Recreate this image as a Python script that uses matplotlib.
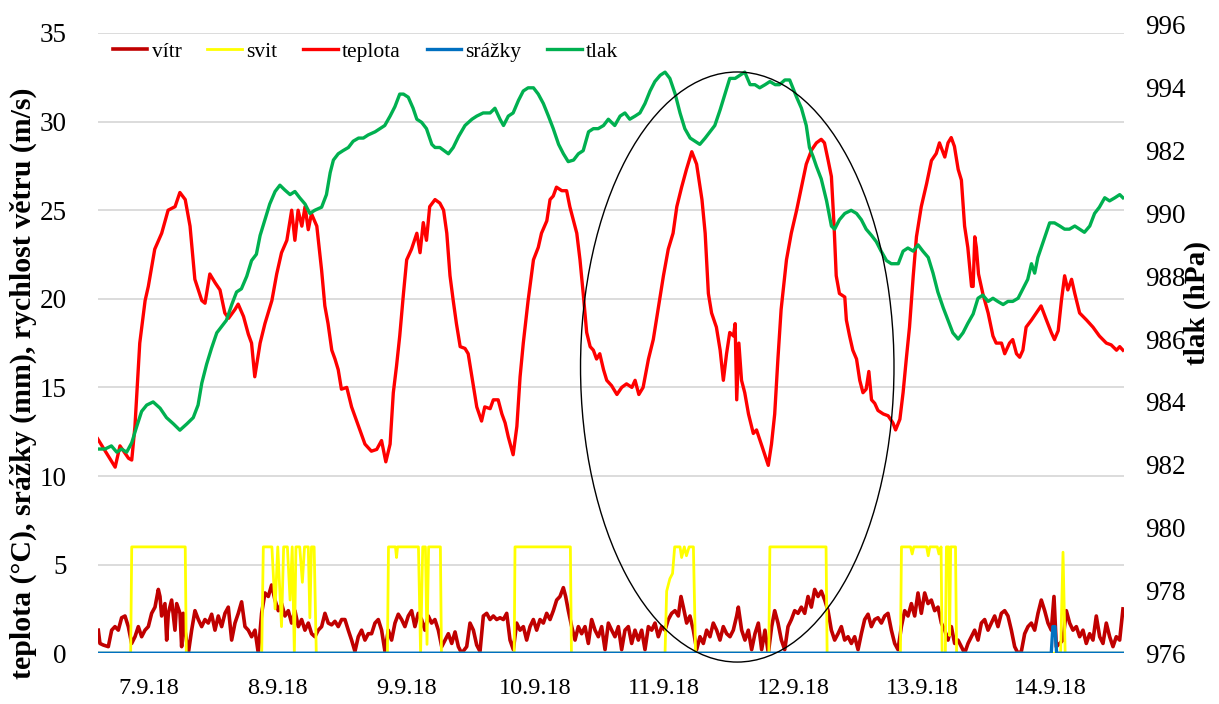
import matplotlib
matplotlib.use('Agg')
import matplotlib.pyplot as plt
from matplotlib.patches import Ellipse

plt.rcParams['font.family'] = ['Liberation Serif', 'DejaVu Serif']

# -----------------------------------------------------------------------------
# data (time in hours from the first record)
# -----------------------------------------------------------------------------
den_h = [9.5, 33.6, 57.7, 81.8, 105.9, 130.0, 154.1, 178.2]
den_lab = ['7.9.18', '8.9.18', '9.9.18', '10.9.18', '11.9.18', '12.9.18', '13.9.18', '14.9.18']

vitr_h = [0.15, 0.46, 1.09, 2.02, 2.65, 3.27, 3.89, 4.51, 5.14, 5.76, 6.38, 7.01, 7.63, 8.25, 8.88,
          9.50, 10.12, 10.75, 11.37, 11.68, 11.99, 12.61, 12.93, 13.24, 13.86, 14.48, 14.80, 15.42,
          15.73, 16.04, 16.35, 16.98, 17.60, 18.22, 18.85, 19.47, 20.09, 20.71, 21.34, 21.96, 22.58,
          23.21, 23.83, 24.45, 25.08, 25.70, 26.32, 26.94, 27.57, 28.19, 28.81, 29.44, 30.06, 30.68,
          31.31, 31.93, 32.55, 33.18, 33.80, 34.42, 35.04, 35.67, 36.29, 36.91, 37.54, 38.16, 38.78,
          39.41, 40.03, 40.65, 41.27, 41.90, 42.52, 43.14, 43.77, 44.39, 45.01, 45.64, 46.26, 46.88,
          47.50, 48.13, 48.75, 49.37, 50.00, 50.62, 51.24, 51.87, 52.49, 53.11, 53.74, 54.36, 54.98,
          55.61, 56.23, 56.85, 57.47, 58.10, 58.72, 59.34, 59.97, 60.59, 61.21, 61.84, 62.46, 63.08,
          63.72, 64.35, 64.97, 65.59, 66.22, 66.84, 67.46, 68.08, 69.02, 69.64, 70.27, 70.89, 71.51,
          72.13, 72.76, 73.38, 74.00, 74.63, 75.25, 75.87, 76.50, 77.12, 77.74, 78.36, 78.99, 79.61,
          80.23, 80.86, 81.48, 82.10, 82.73, 83.35, 83.97, 84.60, 85.22, 85.84, 86.46, 87.09, 87.52,
          88.02, 88.65, 89.27, 89.89, 90.51, 91.14, 91.76, 92.38, 93.01, 93.63, 94.25, 94.88, 95.50,
          96.12, 96.74, 97.37, 97.99, 98.61, 99.24, 99.86, 100.48, 101.11, 101.73, 102.35, 102.98,
          103.60, 104.22, 104.84, 105.47, 106.09, 106.71, 107.34, 107.96, 108.58, 109.08, 109.52,
          110.14, 110.76, 111.39, 112.01, 112.63, 113.26, 113.88, 114.50, 115.12, 115.75, 116.37,
          116.99, 117.62, 118.24, 118.86, 119.49, 119.80, 120.42, 121.04, 121.67, 122.29, 122.91,
          123.54, 124.16, 124.78, 125.41, 126.03, 126.60, 127.22, 127.85, 128.47, 129.09, 129.72,
          130.34, 130.96, 131.58, 132.21, 132.83, 133.45, 134.08, 134.70, 135.32, 135.95, 136.57,
          137.19, 137.81, 138.44, 139.06, 139.68, 140.31, 140.93, 141.55, 142.18, 142.80, 143.42,
          144.05, 144.67, 145.29, 145.91, 146.54, 147.16, 147.78, 148.41, 149.03, 149.65, 150.28,
          150.90, 151.52, 152.15, 152.77, 153.39, 154.01, 154.64, 155.26, 155.88, 156.51, 157.13,
          157.75, 158.38, 159.00, 159.62, 160.24, 160.87, 161.49, 162.11, 162.74, 163.36, 163.98,
          164.61, 165.23, 165.85, 166.48, 167.10, 167.72, 168.34, 168.97, 169.59, 170.21, 170.84,
          171.46, 172.08, 172.71, 173.33, 173.95, 174.58, 175.20, 175.82, 176.44, 177.07, 177.69,
          178.31, 178.81, 179.25, 179.87, 180.49, 181.12, 181.74, 182.36, 182.99, 183.61, 184.23,
          184.85, 185.48, 186.10, 186.72, 187.35, 187.97, 188.59, 189.22, 189.84, 190.46, 191.09,
          191.71]
vitr = [1.3, 0.55, 0.46, 0.37, 1.3, 1.5, 1.3, 2.0, 2.1, 1.5, 0.55, 0.93, 1.5, 0.93, 1.3,
        1.5, 2.25, 2.6, 3.6, 3.2, 2.1, 2.8, 0.74, 2.25, 3.0, 1.3, 2.8, 2.25,
        0.37, 2.25, 1.3, 0.0, 1.3, 2.4, 1.9, 1.5, 1.9, 1.7, 2.2, 1.3, 2.1,
        1.5, 2.25, 2.6, 0.74, 1.7, 2.25, 2.9, 1.5, 1.3, 0.93, 1.3, 0.0, 2.25,
        3.4, 3.2, 3.85, 3.0, 2.4, 2.8, 2.1, 2.4, 1.7, 2.4, 1.5, 1.9, 1.3,
        1.7, 1.1, 0.93, 1.3, 1.5, 2.25, 1.7, 1.6, 1.8, 1.5, 1.9, 1.9, 1.3,
        0.74, 0.1, 0.93, 1.3, 0.74, 1.1, 1.1, 1.7, 1.9, 1.3, 0.1, 1.3, 0.74,
        1.7, 2.2, 1.9, 1.5, 2.1, 2.4, 1.5, 2.25, 1.9, 1.3, 2.1, 1.7, 1.9,
        1.3, 0.37, 0.74, 1.1, 0.55, 1.2, 0.37, 0.0, 0.37, 1.7, 1.3, 0.46, 0.1,
        2.1, 2.25, 1.9, 2.1, 1.9, 2.0, 1.9, 2.25, 0.74, 0.2, 1.7, 1.3, 1.5,
        0.74, 1.5, 1.9, 1.3, 1.9, 1.7, 2.25, 1.9, 2.4, 3.0, 3.2, 3.7, 3.2,
        2.4, 1.5, 0.74, 1.5, 1.1, 1.5, 0.55, 1.9, 1.3, 0.93, 1.5, 0.2, 1.7,
        1.3, 0.93, 1.5, 0.2, 1.3, 1.5, 0.55, 1.3, 0.74, 1.3, 0.2, 1.5,
        1.3, 1.7, 0.93, 1.5, 1.3, 1.9, 2.25, 2.4, 2.1, 3.2, 2.6,
        1.7, 2.1, 1.3, 0.2, 0.93, 0.55, 1.3, 0.93, 1.7, 1.3, 0.74,
        1.5, 1.1, 0.93, 1.3, 2.1, 2.6, 1.3, 0.74, 1.3, 0.2, 1.1,
        1.7, 0.2, 1.3, 0.0, 1.5, 2.4, 1.7, 0.74, 0.2, 1.5, 1.9,
        2.4, 2.25, 2.6, 2.25, 3.2, 2.6, 3.6, 3.2, 3.5, 3.0, 2.4,
        1.3, 0.74, 1.1, 1.5, 0.74, 0.93, 0.55, 0.93, 0.2, 1.1, 1.9,
        2.2, 1.5, 1.9, 2.0, 1.7, 2.1, 2.25, 1.3, 0.55, 0.2, 1.5,
        2.4, 2.1, 2.8, 2.1, 3.4, 2.25, 3.4, 2.8, 3.0, 2.4, 2.6,
        1.7, 1.3, 0.74, 1.5, 0.55, 0.74, 0.37, 0.0, 0.55, 0.93, 1.3,
        0.74, 1.7, 1.9, 1.3, 1.7, 2.1, 1.5, 2.25, 2.4, 2.1, 1.3,
        0.37, 0.0, 0.1, 1.1, 1.5, 1.7, 1.3, 2.25, 3.0, 2.4, 1.7,
        1.3, 3.2, 0.37, 0.55, 0.74, 2.4, 1.7, 1.3, 1.5, 0.93, 1.3,
        0.55, 1.1, 0.74, 2.1, 0.93, 0.55, 1.7, 0.93, 0.37, 0.93, 0.74,
        2.5]

svit_h = [0.0, 6.2, 6.4, 16.4, 16.6,
          30.7, 31.0, 32.6, 33.2, 33.7, 34.4, 34.8, 35.5, 36.0, 36.4, 36.8, 37.1, 37.8, 38.3,
          38.7, 39.4, 39.7, 40.0, 40.5, 40.9,
          54.2, 54.4, 55.7, 55.9, 56.1, 60.0, 60.4, 60.8, 61.3, 61.6, 61.9, 64.1, 64.3,
          77.9, 78.05, 88.4, 88.6,
          106.1, 106.4, 107.0, 107.5, 107.9, 108.9, 109.2, 109.7, 110.1, 110.6, 111.4, 111.8,
          125.5, 125.7, 136.2, 136.4,
          150.1, 150.3, 152.0, 152.3, 152.6, 155.0, 155.3, 155.6, 157.0, 157.3, 157.7, 157.9,
          158.5, 158.7, 159.1, 159.3, 159.5, 160.4, 160.6,
          180.05, 180.5, 180.9, 191.7]
svit = [0, 0, 6, 6, 0,
        0, 6, 6, 2.5, 6, 1.5, 6, 6, 3, 6, 0, 6, 6, 4,
        6, 6, 2, 6, 6, 0,
        0, 6, 6, 5.4, 6, 6, 0, 6, 6, 0.5, 6, 6, 0,
        0, 6, 6, 0,
        0, 3.5, 4.2, 4.5, 6, 6, 5.4, 6, 5.5, 6, 6, 0,
        0, 6, 6, 0,
        0, 6, 6, 5.6, 6, 6, 5.5, 6, 6, 5.6, 6, 0,
        0, 6, 6, 1, 6, 6, 0,
        0, 5.7, 0, 0]

teplota_h = [0.03, 3.3, 4.2, 5.8, 6.4, 7.0, 7.9, 8.9, 9.5, 10.7, 12.0, 13.2, 14.5, 15.4, 16.4,
             17.3, 18.2, 19.5, 20.1, 21.0, 22.0, 22.9, 23.8, 24.5, 25.7, 26.3, 27.3, 28.2, 28.8,
             29.4, 30.4, 31.3, 32.6, 33.5, 34.4, 35.4, 36.3, 36.9, 37.5, 38.2, 38.8, 39.4, 40.0,
             41.0, 41.9, 42.5, 43.1, 43.8, 44.4, 45.0, 45.6, 46.6, 47.5, 48.8, 50.0, 51.2, 52.2,
             53.1, 53.9, 54.7, 55.3, 55.9, 56.5, 57.2, 57.8, 58.7, 59.7, 60.3, 60.9, 61.5, 62.1,
             63.1, 64.0, 64.7, 65.3, 65.9, 66.5, 67.1, 67.8, 68.7, 69.3, 70.0, 70.9, 71.8, 72.4,
             73.4, 74.0, 74.9, 75.6, 76.2, 76.8, 77.7, 78.4, 79.0, 79.6, 80.5, 81.5, 82.4, 83.0,
             84.0, 84.6, 85.2, 85.8, 86.8, 87.7, 88.3, 89.0, 89.6, 90.2, 90.8, 91.45, 92.1, 92.7,
             93.3, 93.9, 94.6, 95.2, 96.1, 97.1, 98.0, 98.9, 99.9, 100.5, 101.2, 102.0, 103.0,
             103.9, 104.8, 105.8, 106.7, 107.6, 108.3, 109.2, 110.1, 111.1, 112.0, 113.0, 113.6,
             114.2, 114.8, 115.7, 116.4, 117.0, 117.6, 118.2, 118.9, 119.2, 119.5, 119.9, 120.4,
             121.0, 121.7, 122.6, 123.2, 124.2, 125.4, 126.0, 126.6, 127.2, 127.8, 128.8, 129.7,
             130.7, 131.6, 132.5, 133.5, 134.4, 135.3, 135.9, 136.6, 137.2, 137.7, 138.1, 138.7,
             139.7, 140.0, 140.6, 141.2, 141.9, 142.5, 143.1, 143.7, 144.2, 144.7, 145.3, 145.9,
             146.9, 147.8, 148.7, 149.2, 150.0, 150.6, 151.2, 151.8, 152.5, 153.1, 154.0, 155.0,
             155.9, 156.8, 157.4, 158.4, 159.0, 159.6, 160.2, 160.9, 161.5, 162.1, 162.7, 163.4,
             163.7, 164.0, 164.3, 164.7, 165.5, 166.5, 167.4, 168.0, 169.0, 169.6, 170.5, 171.1,
             171.8, 172.4, 173.0, 173.6, 174.6, 175.5, 176.4, 177.4, 178.3, 178.9, 179.6, 180.2,
             180.8, 181.4, 182.1, 182.7, 183.6, 184.9, 186.1, 187.3, 188.6, 189.5, 190.5, 191.1,
             191.7]
teplota = [12.1, 10.5, 11.7, 11.0, 10.9, 12.8, 17.5, 19.9, 20.7, 22.8, 23.7, 25.0, 25.2, 26.0, 25.6,
           24.1, 21.1, 19.9, 19.75, 21.4, 20.9, 20.5, 19.2, 18.9, 19.4, 19.7, 19.0, 18.0, 17.5,
           15.6, 17.5, 18.6, 19.9, 21.4, 22.6, 23.3, 25.0, 23.3, 25.0, 24.1, 25.2, 23.9, 24.8,
           24.1, 21.6, 19.6, 18.6, 17.1, 16.6, 16.0, 14.9, 15.0, 13.9, 12.8, 11.8, 11.4, 11.5,
           12.0, 10.8, 11.8, 14.7, 16.2, 17.9, 20.3, 22.2, 22.8, 23.7, 22.6, 24.3, 23.3, 25.2,
           25.6, 25.4, 25.0, 23.7, 21.3, 19.9, 18.6, 17.3, 17.2, 16.9, 15.6, 13.9, 13.1, 13.9,
           13.8, 14.3, 14.3, 13.5, 13.0, 12.2, 11.2, 12.8, 15.6, 17.5, 19.9, 22.2, 22.9, 23.7,
           24.4, 25.6, 25.8, 26.3, 26.1, 26.1, 25.2, 24.4, 23.7, 22.2, 20.3, 18.1, 17.3, 17.1,
           16.6, 16.9, 16.0, 15.4, 15.1, 14.6, 15.0, 15.2, 15.0, 15.4, 14.6, 15.0, 16.6,
           17.7, 19.4, 21.3, 22.8, 23.7, 25.2, 26.3, 27.3, 28.3, 27.6, 25.6, 23.7,
           20.3, 19.2, 18.4, 17.1, 15.4, 16.9, 18.1, 17.9, 18.6, 14.3, 17.5, 15.4,
           14.7, 13.5, 12.4, 12.6, 11.7, 10.6, 11.8, 13.5, 16.6, 19.4, 22.2, 23.7,
           25.0, 26.3, 27.6, 28.4, 28.8, 29.0, 28.8, 27.8, 26.9, 24.1, 21.3, 20.3,
           20.1, 18.8, 17.9, 17.1, 16.6, 15.4, 14.7, 14.9, 15.9, 14.3, 14.1, 13.7,
           13.5, 13.4, 13.0, 12.6, 13.2, 14.7, 16.6, 18.4, 21.3, 23.5, 25.2, 26.5,
           27.8, 28.2, 28.8, 28.0, 28.8, 29.1, 28.6, 27.3, 26.7, 24.1, 22.9, 20.7,
           20.7, 23.5, 22.9, 21.4, 20.3, 19.2, 17.9, 17.5, 17.5, 16.9, 17.5, 17.7,
           16.9, 16.7, 17.1, 18.4, 18.8, 19.2, 19.6, 18.8, 18.1, 17.7, 18.2, 19.9,
           21.3, 20.5, 21.1, 20.3, 19.2, 18.8, 18.4, 17.9, 17.5, 17.4, 17.1, 17.3,
           17.1]

srazky_h = [0.0, 178.3, 178.6, 179.0, 179.3, 191.7]
srazky = [0, 0, 1.5, 1.5, 0, 0]

tlak_h = [0.03, 1.4, 2.6, 3.6, 4.5, 5.45, 6.4, 7.3, 8.25, 9.2, 10.4, 11.7, 12.9, 14.2, 15.4, 16.7,
          17.9, 18.8, 19.5, 20.4, 21.3, 22.3, 23.2, 24.1, 25.1, 26.0, 26.9, 27.9, 28.8, 29.7,
          30.4, 31.3, 32.2, 33.2, 34.1, 35.0, 36.0, 36.9, 37.8, 38.8, 39.7, 40.6, 41.9, 42.8,
          43.5, 44.1, 45.0, 45.9, 46.9, 47.8, 48.8, 49.7, 50.6, 51.9, 52.8, 53.7, 54.7, 55.6,
          56.5, 57.2, 58.1, 59.0, 59.7, 60.6, 61.5, 62.5, 63.1, 64.0, 65.6, 66.5, 67.5, 68.7,
          70.0, 70.9, 72.1, 73.4, 74.3, 75.25, 75.9, 76.8, 77.7, 78.7, 79.6, 80.5, 81.5, 82.4,
          83.35, 84.3, 85.2, 86.2, 87.1, 88.0, 89.0, 89.9, 90.8, 91.8, 92.7, 93.6, 94.6, 95.5,
          96.7, 97.7, 98.6, 99.5, 100.5, 101.4, 102.35, 103.3, 104.2, 105.2, 106.1, 107.0,
          108.0, 108.9, 109.8, 110.8, 111.7, 112.6, 113.6, 114.5, 115.4, 116.4, 117.3, 118.2,
          119.2, 120.1, 121.0, 122.0, 122.9, 123.8, 124.8, 125.7, 126.7, 127.5, 128.5, 129.4,
          130.0, 130.7, 131.6, 132.5, 133.1, 133.8, 134.4, 135.3, 136.3, 137.2, 137.8, 138.7,
          139.7, 140.9, 141.9, 142.8, 143.7, 144.7, 145.6, 146.5, 147.5, 148.4, 149.7, 150.6,
          151.5, 152.5, 153.4, 154.3, 155.3, 156.2, 157.1, 158.1, 159.0, 159.9, 160.9, 161.8,
          162.7, 163.7, 164.6, 165.5, 166.5, 167.4, 168.3, 169.3, 170.2, 171.1, 172.1, 173.0,
          173.9, 174.6, 175.2, 175.8, 176.4, 177.4, 178.0, 178.9, 179.9, 180.8, 181.7, 182.7,
          183.6, 184.5, 185.5, 186.4, 187.3, 188.3, 189.2, 190.2, 191.1, 191.7]
tlak = [982.5, 982.5, 982.6, 982.4, 982.5, 982.4, 982.7, 983.2, 983.7, 983.9, 984.0, 983.8, 983.5,
        983.3, 983.1, 983.3, 983.5, 983.9, 984.6, 985.2, 985.7, 986.2, 986.4, 986.6, 987.1, 987.5,
        987.6, 988.0, 988.5, 988.7, 989.3, 989.8, 990.3, 990.7, 990.9, 990.75, 990.6, 990.7, 990.5,
        990.3, 990.0, 990.1, 990.2, 990.6, 991.3, 991.7, 991.9, 992.0, 992.1, 992.3, 992.4, 992.4,
        992.5, 992.6, 992.7, 992.8, 993.1, 993.4, 993.8, 993.8, 993.7, 993.35, 993.0, 992.9, 992.7,
        992.2, 992.1, 992.1, 991.9, 992.1, 992.45, 992.8, 993.0, 993.1, 993.2, 993.2, 993.35, 993.0,
        992.8, 993.1, 993.2, 993.6, 993.9, 994.0, 994.0, 993.8, 993.5, 993.1, 992.7, 992.2, 991.9,
        991.65, 991.7, 991.9, 992.0, 992.6, 992.7, 992.7, 992.8, 993.0, 992.8, 993.1, 993.2, 993.0,
        993.1, 993.2, 993.5, 993.9, 994.2, 994.4, 994.5, 994.3, 993.8, 993.2, 992.7, 992.4, 992.3,
        992.2, 992.4, 992.6, 992.8, 993.3, 993.8, 994.3, 994.3, 994.4, 994.5, 994.1, 994.1, 994.0,
        994.1, 994.2, 994.1, 994.1, 994.25, 994.25, 994.0, 993.7, 993.35, 992.8, 992.1, 991.8,
        991.5, 991.1, 990.4, 989.6, 989.5, 989.8, 990.0, 990.1, 990.0, 989.8, 989.5, 989.3, 989.1,
        988.8, 988.5, 988.4, 988.4, 988.8, 988.9, 988.8, 989.0, 988.8, 988.6, 988.1, 987.5, 987.0,
        986.6, 986.2, 986.0, 986.2, 986.5, 986.8, 987.3, 987.4, 987.2, 987.3, 987.2, 987.1, 987.2,
        987.2, 987.3, 987.6, 987.9, 988.4, 988.1, 988.6, 988.9, 989.4, 989.7, 989.7, 989.6, 989.5,
        989.5, 989.6, 989.5, 989.4, 989.6, 990.0, 990.2, 990.5, 990.4, 990.5, 990.6, 990.5]

tlak_ticks = [976, 978, 980, 982, 984, 986, 988, 990, 992, 994, 996]
tlak_lab = ['976', '978', '980', '982', '984', '986', '988', '990', '982', '994', '996']

# -----------------------------------------------------------------------------
# figure
# -----------------------------------------------------------------------------
W, H = 1219, 704
fig = plt.figure(figsize=(W / 100, H / 100), dpi=100)
x0, x1 = 97.5, 1124.0
ax = fig.add_axes([x0 / W, 1 - 653.2 / H, (x1 - x0) / W, 620.2 / H])
ax2 = fig.add_axes([x0 / W, 1 - 653.2 / H, (x1 - x0) / W, 628.2 / H], sharex=ax)

c_vitr, c_svit, c_tepl, c_sraz, c_tlak = '#C00000', '#FFFF00', '#FF0000', '#0070C0', '#00B050'

l1, = ax.plot(vitr_h, vitr, color=c_vitr, lw=2.6, label='vítr')
l2, = ax.plot(svit_h, svit, color=c_svit, lw=2.0, label='svit')
l3, = ax.plot(teplota_h, teplota, color=c_tepl, lw=2.4, label='teplota')
l4, = ax.plot(srazky_h, srazky, color=c_sraz, lw=2.4, label='srážky', zorder=4)
l5, = ax2.plot(tlak_h, tlak, color=c_tlak, lw=2.4, label='tlak')

ax.set_xlim(0, 191.9)
ax.set_ylim(0, 35)
ax.set_yticks(range(0, 36, 5))
ax.grid(axis='y', color='#D9D9D9', lw=1.3)
ax.set_axisbelow(True)
for s in ax.spines.values():
    s.set_visible(False)
ax.set_xticks(den_h)
ax.set_xticklabels(den_lab)
ax.tick_params(axis='x', length=0, pad=18, labelsize=17.5)
ax.tick_params(axis='y', length=0, pad=22, labelsize=19.5)

ax2.set_ylim(976, 996)
ax2.set_yticks(tlak_ticks)
ax2.set_yticklabels(tlak_lab)
ax2.yaxis.tick_right()
ax2.patch.set_visible(False)
for s in ax2.spines.values():
    s.set_visible(False)
ax2.tick_params(axis='y', length=0, pad=15, labelsize=19.5)
ax2.tick_params(axis='x', bottom=False, labelbottom=False)

# elipsa kolem 11.-12.9.
el = Ellipse((119.6, 16.15), 58.6, 33.3, transform=ax.transData, fill=False,
             edgecolor='black', lw=1.0, clip_on=False, zorder=6)
ax2.add_patch(el)

fig.legend(handles=[l1, l2, l3, l4, l5], loc='center left', bbox_to_anchor=(113 / W, 1 - 52 / H),
           ncol=5, frameon=False, fontsize=15.5, handlelength=1.6, handletextpad=0.2,
           columnspacing=1.2, borderaxespad=0, borderpad=0)

fig.text(23 / W, 1 - 383 / H, 'teplota (°C), srážky (mm), rychlost větru (m/s)', rotation=90,
         ha='center', va='center', fontsize=21.5, fontweight='bold')
fig.text(1197 / W, 1 - 303 / H, 'tlak (hPa)', rotation=90, ha='center', va='center',
         fontsize=21, fontweight='bold')

fig.savefig('out.png', dpi=100)
